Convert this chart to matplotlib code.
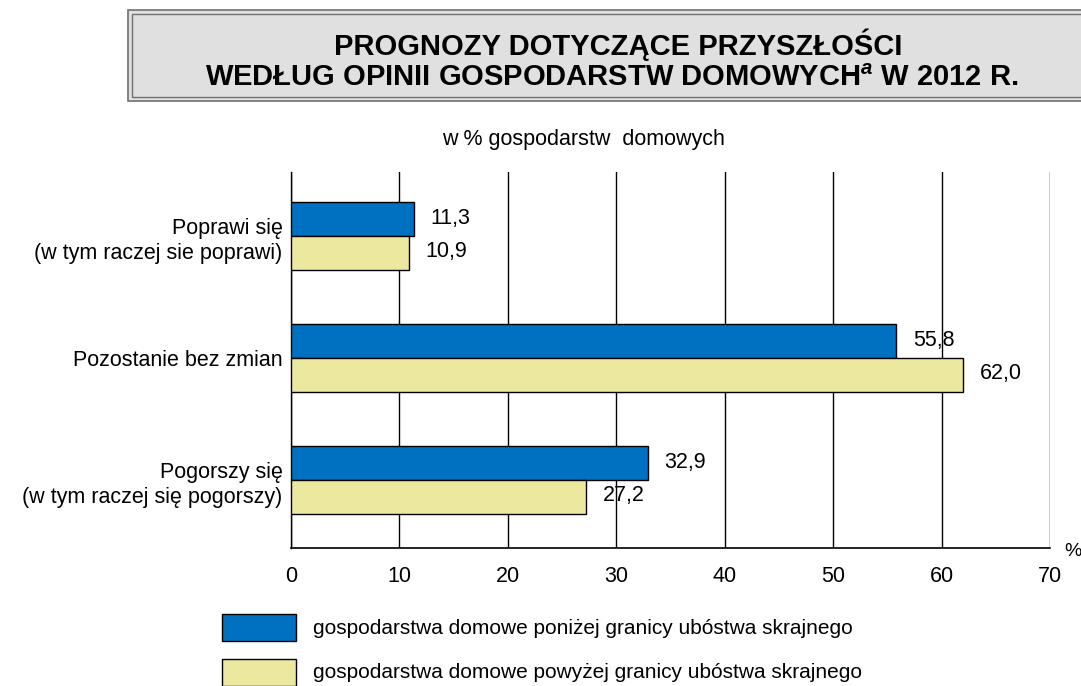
import matplotlib
matplotlib.use("Agg")
import matplotlib.pyplot as plt
from matplotlib.patches import Rectangle
import numpy as np

plt.rcParams['font.family'] = ['Liberation Sans', 'DejaVu Sans']
plt.rcParams['mathtext.fontset'] = 'custom'
plt.rcParams['mathtext.it'] = 'Liberation Sans:italic:bold'

# dane
categories = ['Poprawi się\n(w tym raczej sie poprawi)',
              'Pozostanie bez zmian',
              'Pogorszy się\n(w tym raczej się pogorszy)']
below_poverty = [11.3, 55.8, 32.9]   # poniżej granicy ubóstwa skrajnego
above_poverty = [10.9, 62.0, 27.2]   # powyżej granicy ubóstwa skrajnego
x_ticks = [0, 10, 20, 30, 40, 50, 60, 70]
legend_labels = ['gospodarstwa domowe poniżej granicy ubóstwa skrajnego',
                 'gospodarstwa domowe powyżej granicy ubóstwa skrajnego']

blue = '#0070C0'
yellow = '#ECE8A0'
fs = 15.5

W, H = 1081, 686
fig = plt.figure(figsize=(W / 100, H / 100), dpi=100)

# pozycja osi w pikselach
left, right, top, bottom = 291, 1050, 172, 548
ax = fig.add_axes([left / W, 1 - bottom / H, (right - left) / W, (bottom - top) / H])

y = np.arange(len(categories))
h = 0.28
ax.barh(y - h / 2, below_poverty, height=h, color=blue, edgecolor='black', linewidth=1, zorder=3)
ax.barh(y + h / 2, above_poverty, height=h, color=yellow, edgecolor='black', linewidth=1, zorder=3)

for i in range(len(categories)):
    ax.annotate(f"{below_poverty[i]:.1f}".replace('.', ','), (below_poverty[i], y[i] - h / 2),
                xytext=(12, 0), textcoords='offset points', va='center', ha='left', fontsize=fs)
    ax.annotate(f"{above_poverty[i]:.1f}".replace('.', ','), (above_poverty[i], y[i] + h / 2),
                xytext=(12, 1), textcoords='offset points', va='center', ha='left', fontsize=fs)

ax.set_xlim(0, 70)
ax.set_ylim(2.557, -0.525)
ax.set_xticks(x_ticks)
ax.set_xticklabels([str(t) for t in x_ticks], fontsize=fs)
ax.set_yticks(y)
ax.set_yticklabels(categories, fontsize=fs, multialignment='right', linespacing=1.3)
ax.tick_params(axis='x', length=0, pad=13)
ax.tick_params(axis='y', length=0, pad=6)
ax.grid(axis='x', color='black', linewidth=1, zorder=0)
for s in ['top', 'right']:
    ax.spines[s].set_visible(False)
ax.spines['left'].set_linewidth(1)
ax.spines['bottom'].set_linewidth(1.2)

# tytuł w ramce
fig.patches.append(Rectangle((128 / W, 1 - 101 / H), (W - 128) / W + 0.01, 91 / H,
                             transform=fig.transFigure, facecolor='#E0E0E0',
                             edgecolor='#707070', linewidth=1.2))
fig.patches.append(Rectangle((132 / W, 1 - 97 / H), (W - 132) / W + 0.01, 83 / H,
                             transform=fig.transFigure, facecolor='none',
                             edgecolor='#707070', linewidth=1))
fig.text(618 / W, 1 - 45 / H, 'PROGNOZY DOTYCZĄCE PRZYSZŁOŚCI', ha='center', va='center',
         fontsize=21, fontweight='bold')
fig.text(612 / W, 1 - 78 / H, 'WEDŁUG OPINII GOSPODARSTW DOMOWYCH$^{a}$ W 2012 R.',
         ha='center', va='center', fontsize=21, fontweight='bold')

fig.text(583 / W, 1 - 140 / H, 'w % gospodarstw  domowych', ha='center', va='center', fontsize=fs)
fig.text(1064 / W, 1 - 552 / H, '%', ha='left', va='center', fontsize=14)

# legenda
leg_colors = [blue, yellow]
leg_y = [614, 659]
for c, yy, lab in zip(leg_colors, leg_y, legend_labels):
    fig.patches.append(Rectangle((222 / W, 1 - (yy + 27) / H), 74 / W, 27 / H,
                                 transform=fig.transFigure, facecolor=c,
                                 edgecolor='black', linewidth=1))
    fig.text(313 / W, 1 - (yy + 14) / H, lab, ha='left', va='center', fontsize=15)

fig.savefig('out.png', dpi=100)
